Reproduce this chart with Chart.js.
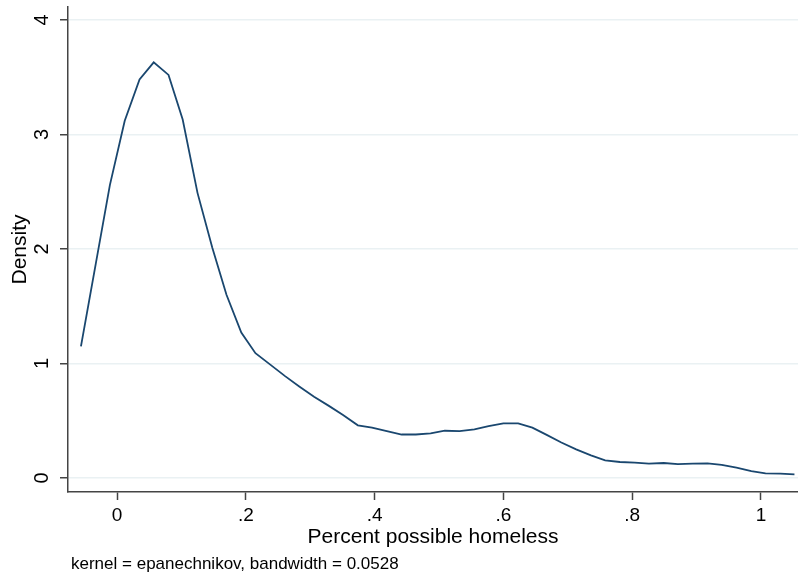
<!DOCTYPE html>
<html>
<head>
<meta charset="utf-8">
<script src="https://cdn.jsdelivr.net/npm/chart.js@4/dist/chart.umd.min.js"></script>
<style>
  html, body { margin: 0; padding: 0; background: #fff; }
  canvas { display: block; }
</style>
</head>
<body>
<canvas id="chart" width="798" height="575"></canvas>
<script>
// Kernel density estimate of the share of possibly homeless (50 grid points)
const gridX = [-0.056, -0.033, -0.011, 0.012, 0.035, 0.057, 0.080, 0.102, 0.125, 0.148,
               0.170, 0.193, 0.215, 0.238, 0.261, 0.283, 0.306, 0.329, 0.351, 0.374,
               0.396, 0.419, 0.442, 0.464, 0.487, 0.509, 0.532, 0.555, 0.577, 0.600,
               0.623, 0.645, 0.668, 0.690, 0.713, 0.736, 0.758, 0.781, 0.804, 0.826,
               0.849, 0.871, 0.894, 0.917, 0.939, 0.962, 0.985, 1.007, 1.030, 1.052];
const density = [1.15, 1.87, 2.56, 3.12, 3.48, 3.63, 3.52, 3.13, 2.49, 2.01,
                 1.60, 1.27, 1.09, 0.99, 0.89, 0.80, 0.71, 0.63, 0.55, 0.46,
                 0.44, 0.41, 0.38, 0.38, 0.39, 0.413, 0.41, 0.425, 0.454, 0.478,
                 0.478, 0.44, 0.375, 0.31, 0.25, 0.198, 0.154, 0.14, 0.134, 0.125,
                 0.131, 0.122, 0.125, 0.128, 0.114, 0.09, 0.061, 0.041, 0.038, 0.032];

const xTicks = [0, 0.2, 0.4, 0.6, 0.8, 1];
const xTickLabels = ['0', '.2', '.4', '.6', '.8', '1'];
const yTicks = [0, 1, 2, 3, 4];
const yTickLabels = ['0', '1', '2', '3', '4'];

const xTitle = 'Percent possible homeless';
const yTitle = 'Density';
const note = 'kernel = epanechnikov, bandwidth = 0.0528';

const FAMILY = '"Liberation Sans", Arial, Helvetica, sans-serif';
const AXIS = '#444444';

// Rotated y tick labels and the kernel note under the axes
const extras = {
  id: 'extras',
  afterDraw(chart) {
    const c = chart.ctx;
    const ys = chart.scales.y;
    c.save();
    c.fillStyle = '#000';
    c.font = '20px ' + FAMILY;
    c.textAlign = 'center';
    c.textBaseline = 'middle';
    yTicks.forEach((v, i) => {
      c.save();
      c.translate(42, ys.getPixelForValue(v));
      c.rotate(-Math.PI / 2);
      c.fillText(yTickLabels[i], 0, 0);
      c.restore();
    });
    c.font = '17px ' + FAMILY;
    c.textAlign = 'left';
    c.textBaseline = 'alphabetic';
    c.fillText(note, 71, 569);
    c.restore();
  }
};

new Chart(document.getElementById('chart'), {
  type: 'line',
  data: {
    datasets: [{
      data: gridX.map((x, i) => ({ x: x, y: density[i] })),
      borderColor: '#1a476f',
      borderWidth: 1.8,
      pointRadius: 0,
      tension: 0,
      fill: false
    }]
  },
  options: {
    responsive: false,
    animation: false,
    devicePixelRatio: 1,
    layout: { padding: { top: 7, right: 0, bottom: 25, left: 0 } },
    plugins: { legend: { display: false }, tooltip: { enabled: false } },
    scales: {
      x: {
        type: 'linear',
        min: -0.0761,
        max: 1.0575,
        afterBuildTicks: s => { s.ticks = xTicks.map(v => ({ value: v })); },
        afterFit: s => { s.height = 58; },
        ticks: {
          callback: v => xTickLabels[xTicks.indexOf(v)],
          font: { size: 19, family: FAMILY },
          color: '#000',
          padding: 4,
          maxRotation: 0,
          autoSkip: false
        },
        grid: { drawOnChartArea: false, drawTicks: true, tickLength: 8, tickColor: AXIS, tickWidth: 1.5 },
        border: { color: AXIS, width: 1.5 },
        title: { display: true, text: xTitle, font: { size: 21, family: FAMILY }, color: '#000', padding: 0 }
      },
      y: {
        type: 'linear',
        min: -0.122,
        max: 4.113,
        afterBuildTicks: s => { s.ticks = yTicks.map(v => ({ value: v })); },
        afterFit: s => { s.width = 68; },
        ticks: { display: false },
        grid: { color: '#eaf1f3', lineWidth: 1.5, drawTicks: true, tickLength: 8, tickColor: AXIS, tickWidth: 1.5 },
        border: { color: AXIS, width: 1.5 },
        title: { display: true, text: yTitle, font: { size: 21, family: FAMILY }, color: '#000', padding: { top: 8, bottom: 0 } }
      }
    }
  },
  plugins: [extras]
});
</script>
</body>
</html>
